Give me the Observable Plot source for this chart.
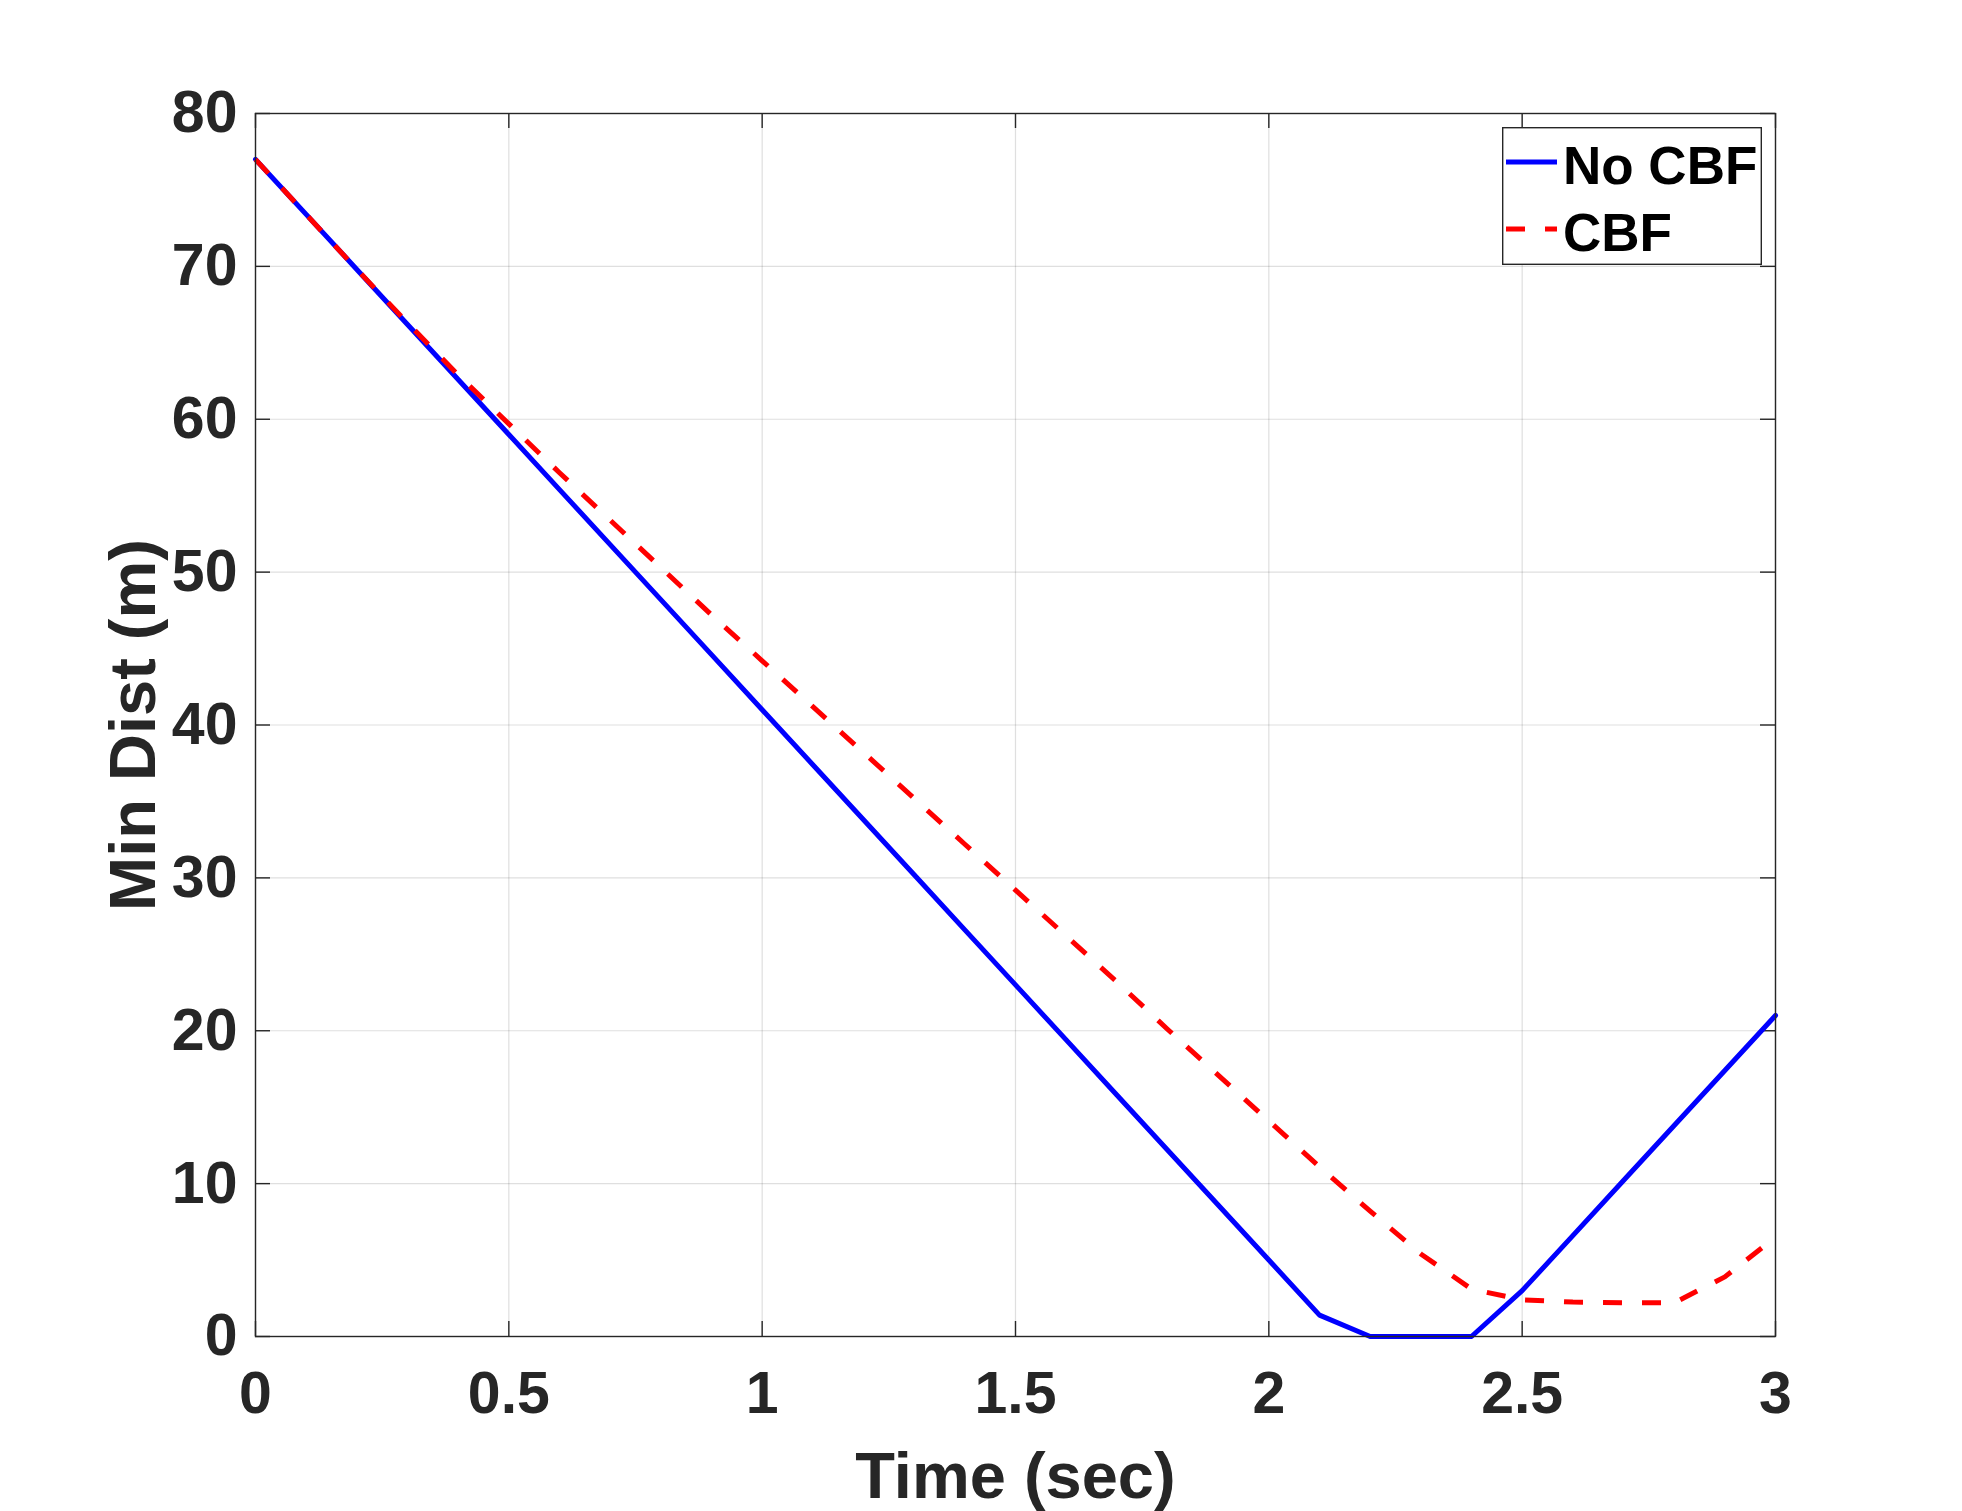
<!DOCTYPE html>
<html>
<head>
<meta charset="utf-8">
<script src="https://cdn.jsdelivr.net/npm/d3@7"></script>
<script src="https://cdn.jsdelivr.net/npm/@observablehq/plot@0.6"></script>
<style>
  html, body { margin: 0; padding: 0; background: #fff; }
  #wrap { position: relative; width: 1962px; height: 1511px; }
  #legend { position: absolute; left: 1502px; top: 127px; }
</style>
</head>
<body>
<div id="wrap"></div>
<script>
// ---- data ----
const time = [0.0, 0.1, 0.2, 0.3, 0.4, 0.5, 0.6, 0.7, 0.8, 0.9, 1.0,
              1.1, 1.2, 1.3, 1.4, 1.5, 1.6, 1.7, 1.8, 1.9, 2.0,
              2.1, 2.2, 2.3, 2.4, 2.5, 2.6, 2.7, 2.8, 2.9, 3.0];
const noCBF = [77.0, 73.4, 69.8, 66.2, 62.6, 59.0, 55.4, 51.8, 48.2, 44.6, 41.0,
               37.4, 33.8, 30.2, 26.6, 23.0, 19.4, 15.8, 12.2, 8.6, 5.0,
               1.4, 0.0, 0.0, 0.0, 3.0, 6.6, 10.2, 13.8, 17.4, 21.0];
const cbf = [77.0, 73.4, 69.8, 66.3, 62.9, 59.7, 56.5, 53.4, 50.3, 47.2, 44.2,
             41.2, 38.2, 35.2, 32.2, 29.2, 26.2, 23.2, 20.1, 17.1, 14.1,
             11.1, 8.2, 5.4, 3.1, 2.4, 2.25, 2.2, 2.2, 3.9, 6.5];
const seriesNames = ["No CBF", "CBF"];
const xTicks = [0, 0.5, 1, 1.5, 2, 2.5, 3];
const xTickLabels = ["0", "0.5", "1", "1.5", "2", "2.5", "3"];
const yTicks = [0, 10, 20, 30, 40, 50, 60, 70, 80];
const yTickLabels = ["0", "10", "20", "30", "40", "50", "60", "70", "80"];
const xLabel = "Time (sec)";
const yLabel = "Min Dist (m)";

// ---- layout / style ----
const W = 1962, H = 1511;
const mL = 255, mR = 187, mT = 113, mB = 175;
const plotW = W - mL - mR, plotH = H - mT - mB;
const ink = "#262626";
const font = "'Liberation Sans', Arial, Helvetica, sans-serif";
const tickLen = 15;
const dash = "19,20";
const lineW = 5;

const rowsNo = time.map((t, i) => ({t, v: noCBF[i]}));
const rowsCbf = time.map((t, i) => ({t, v: cbf[i]}));

const chart = Plot.plot({
  width: W, height: H,
  marginLeft: mL, marginRight: mR, marginTop: mT, marginBottom: mB,
  style: {fontFamily: font, background: "white", color: ink, overflow: "visible"},
  x: {domain: [0, 3]},
  y: {domain: [0, 80]},
  marks: [
    Plot.gridX(xTicks, {stroke: ink, strokeOpacity: 0.15, strokeWidth: 1.2}),
    Plot.gridY(yTicks, {stroke: ink, strokeOpacity: 0.15, strokeWidth: 1.2}),
    // inward ticks on all four sides
    Plot.ruleX(xTicks, {insetTop: plotH - tickLen, stroke: ink, strokeWidth: 1.4}),
    Plot.ruleX(xTicks, {insetBottom: plotH - tickLen, stroke: ink, strokeWidth: 1.4}),
    Plot.ruleY(yTicks, {insetRight: plotW - tickLen, stroke: ink, strokeWidth: 1.4}),
    Plot.ruleY(yTicks, {insetLeft: plotW - tickLen, stroke: ink, strokeWidth: 1.4}),
    Plot.line(rowsNo, {x: "t", y: "v", stroke: "#0000ff", strokeWidth: lineW}),
    Plot.line(rowsCbf, {x: "t", y: "v", stroke: "#ff0000", strokeWidth: lineW,
                        strokeDasharray: dash, strokeLinecap: "butt"}),
    Plot.frame({stroke: ink, strokeWidth: 1.4}),
    Plot.axisX(xTicks, {tickSize: 0, tickPadding: 35, fontSize: 59, fontWeight: "bold",
                        tickFormat: d => xTickLabels[xTicks.indexOf(d)], label: null}),
    Plot.axisY(yTicks, {tickSize: 0, tickPadding: 18, fontSize: 59, fontWeight: "bold",
                        tickFormat: d => yTickLabels[yTicks.indexOf(d)], label: null}),
    Plot.text([xLabel], {text: d => d, frameAnchor: "bottom", dy: 161, lineAnchor: "bottom",
                         textAnchor: "middle", fontSize: 65, fontWeight: "bold", fill: ink}),
    Plot.text([yLabel], {text: d => d, frameAnchor: "left", dx: -101, rotate: -90,
                         textAnchor: "middle", lineAnchor: "bottom",
                         fontSize: 65, fontWeight: "bold", fill: ink})
  ]
});

const wrap = document.getElementById("wrap");
wrap.appendChild(chart);

// ---- legend (overlay) ----
const lw = 260, lh = 138;
const leg = d3.create("svg").attr("id", "legend").attr("width", lw).attr("height", lh)
  .style("font-family", font);
leg.append("rect").attr("x", 0.7).attr("y", 0.7).attr("width", lw - 1.4).attr("height", lh - 1.4)
  .attr("fill", "white").attr("stroke", ink).attr("stroke-width", 1.4);
const legColors = ["#0000ff", "#ff0000"];
const legDash = [null, dash];
seriesNames.forEach((name, i) => {
  const cy = 35 + i * 67;
  leg.append("line").attr("x1", 4).attr("x2", 55).attr("y1", cy).attr("y2", cy)
    .attr("stroke", legColors[i]).attr("stroke-width", lineW)
    .attr("stroke-dasharray", legDash[i]);
  leg.append("text").attr("x", 61).attr("y", cy + 22).text(name)
    .attr("font-size", 53).attr("font-weight", "bold").attr("fill", "#000");
});
wrap.appendChild(leg.node());
</script>
</body>
</html>
